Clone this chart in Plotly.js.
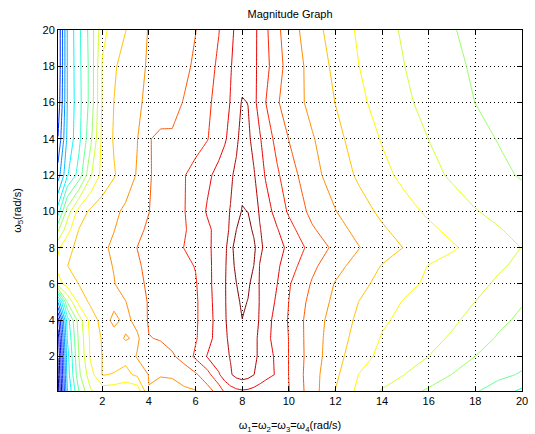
<!DOCTYPE html>
<html>
<head>
<meta charset="utf-8">
<script src="https://cdn.plot.ly/plotly-3.0.1.min.js"></script>
<style>
  html, body { margin: 0; padding: 0; background: #fff; }
  #chart { width: 535px; height: 434px; }
</style>
</head>
<body>
<div id="chart"></div>
<script>
// Grid of ω1=ω2=ω3=ω4 values (rad/s) where the magnitude is sampled
const omega1to4 = [0.1, 0.5, 1, 1.5, 2, 2.5, 3, 3.5, 4, 4.5, 5, 5.5, 6, 6.5, 7, 7.25, 7.5, 7.75, 8, 8.25, 8.5, 8.75, 9, 9.5, 10, 11, 12, 13, 14, 15, 16, 17, 18, 19, 20];
// Grid of ω5 values (rad/s)
const omega5 = [0.1, 1, 2, 3, 4, 5, 6, 7, 8, 9, 10, 12, 14, 16, 18, 20];

// Magnitude samples, one row per ω5 value
const mag_w5_0_1 = [0.5, 7.02, 10.02, 11.9, 12.5, 12.4, 12.1, 12.3, 14.97, 14.4, 14.5, 14.8, 14.95, 15.6, 16.4, 17.2, 17.6, 17.8, 17.9, 17.85, 17.7, 17.55, 17.4, 17.2, 17.03, 15.45, 13.97, 12.75, 11.9, 11.4, 10.85, 10.5, 10.1, 9.5, 8.8];
const mag_w5_1 = [0.8, 7.4, 10.8, 12.6, 14.05, 13.95, 13.75, 14.2, 15.05, 15.1, 15.15, 15.5, 15.85, 16.6, 17.9, 18.5, 18.9, 19.3, 19.5, 19.35, 19.02, 18.6, 18.3, 17.9, 16.98, 15.4, 14.2, 12.98, 12.6, 11.98, 11.55, 10.98, 10.6, 10.25, 9.9];
const mag_w5_2 = [1.02, 7.6, 11.02, 13.18, 14.02, 14.37, 14.25, 15.1, 15.5, 15.7, 15.88, 16.33, 17.18, 18.05, 18.55, 18.8, 19.05, 19.35, 19.65, 19.5, 19.18, 18.86, 18.5, 17.77, 16.98, 15.48, 14.38, 13.36, 12.77, 12.38, 11.99, 11.5, 10.99, 10.67, 10.35];
const mag_w5_3 = [1.5, 8.02, 11.25, 13.2, 14.1, 14.5, 15.1, 14.8, 15.97, 16.05, 16.3, 16.5, 16.9, 17.6, 18.5, 18.86, 19.17, 19.46, 19.78, 19.54, 19.22, 18.83, 18.31, 17.59, 16.98, 15.45, 14.5, 13.62, 12.93, 12.6, 12.27, 11.89, 11.37, 10.91, 10.6];
const mag_w5_4 = [2.5, 8.5, 11.5, 13.38, 14.4, 15.3, 14.7, 15.35, 16.1, 16.26, 16.46, 16.67, 16.88, 17.5, 18.5, 18.92, 19.26, 19.58, 19.98, 19.64, 19.3, 18.94, 18.42, 17.61, 16.92, 15.46, 14.61, 13.8, 13.13, 12.76, 12.45, 12.15, 11.72, 11.17, 10.85];
const mag_w5_5 = [6.02, 11.02, 13.3, 14.2, 14.5, 14.7, 14.97, 15.55, 16.08, 16.27, 16.47, 16.67, 16.86, 17.56, 18.56, 18.93, 19.32, 19.73, 20.2, 19.95, 19.44, 18.96, 18.59, 17.83, 16.99, 15.64, 14.77, 13.99, 13.41, 12.91, 12.61, 12.3, 11.99, 11.52, 11.05];
const mag_w5_6 = [12.6, 13.4, 14.03, 14.34, 14.65, 14.96, 15.38, 15.82, 16.12, 16.32, 16.52, 16.72, 16.92, 17.67, 18.54, 18.92, 19.43, 19.98, 20.5, 20.2, 19.57, 18.94, 18.63, 18.01, 17.09, 15.9, 14.93, 14.27, 13.71, 13.24, 12.84, 12.52, 12.19, 11.89, 11.6];
const mag_w5_7 = [13.3, 13.99, 14.26, 14.51, 14.77, 15.04, 15.48, 15.91, 16.17, 16.38, 16.59, 16.8, 17.04, 17.73, 18.46, 18.85, 19.56, 20.27, 20.85, 20.5, 19.99, 18.97, 18.7, 18.16, 17.46, 16.22, 15.33, 14.6, 13.95, 13.45, 12.97, 12.68, 12.38, 12.09, 11.85];
const mag_w5_8 = [12.8, 13.74, 14.25, 14.54, 14.83, 15.17, 15.59, 16.01, 16.25, 16.5, 16.75, 17.01, 17.4, 17.81, 18.38, 18.74, 19.58, 20.58, 21.3, 20.99, 20.28, 19.21, 18.8, 18.33, 17.8, 16.63, 15.76, 15.04, 14.47, 13.94, 13.52, 13.11, 12.72, 12.35, 11.98];
const mag_w5_9 = [10.8, 12.6, 14.03, 14.34, 14.66, 14.97, 15.38, 15.79, 16.15, 16.45, 16.7, 16.9, 17.35, 17.81, 18.35, 18.7, 19.14, 19.99, 20.85, 20.41, 19.77, 19.06, 18.71, 18.06, 17.36, 16.12, 15.36, 14.71, 14.12, 13.64, 13.18, 12.78, 12.41, 12.04, 11.8];
const mag_w5_10 = [8.5, 11.44, 13.43, 14.19, 14.5, 14.81, 15.17, 15.58, 15.98, 16.43, 16.7, 16.95, 17.45, 18.09, 18.56, 18.79, 19.04, 19.56, 20.08, 19.98, 19.44, 18.91, 18.45, 17.62, 16.86, 15.72, 15.03, 14.39, 13.8, 13.3, 12.84, 12.44, 12.04, 11.81, 11.6];
const mag_w5_12 = [5.5, 7.9, 9.4, 11.88, 13.34, 13.92, 14.49, 15.08, 15.92, 16.29, 16.62, 16.94, 17.36, 17.8, 18.3, 18.58, 18.86, 19.21, 19.6, 19.45, 19.1, 18.49, 17.92, 17.15, 16.43, 15.33, 14.54, 13.85, 13.26, 12.74, 12.28, 11.87, 11.55, 11.23, 10.9];
const mag_w5_14 = [4.05, 7.2, 8.74, 10.75, 13.27, 14.09, 14.53, 14.97, 15.95, 16.2, 16.1, 16.3, 16.6, 16.95, 17.56, 17.88, 18.3, 18.8, 19.4, 19.2, 18.67, 18.11, 17.56, 16.67, 15.98, 15.09, 14.28, 13.56, 12.93, 12.46, 11.99, 11.65, 11.3, 10.95, 10.7];
const mag_w5_16 = [3.3, 7.02, 8.68, 10.35, 13.12, 14.01, 14.43, 14.87, 15.19, 15.47, 15.75, 16.04, 16.43, 16.81, 17.35, 17.69, 18.04, 18.57, 19.09, 18.98, 18.25, 17.63, 17.02, 16.09, 15.57, 14.71, 13.98, 13.21, 12.64, 12.14, 11.74, 11.37, 10.99, 10.75, 10.5];
const mag_w5_18 = [3.05, 7.02, 8.74, 10.33, 13.11, 13.89, 14.35, 14.76, 15.1, 15.34, 15.58, 15.82, 16.13, 16.62, 17.18, 17.57, 17.95, 18.25, 18.5, 18.42, 18.2, 17.77, 17.32, 16.36, 15.65, 14.64, 13.77, 13.01, 12.49, 11.99, 11.6, 11.21, 10.87, 10.59, 10.3];
const mag_w5_20 = [3.05, 7.05, 8.8, 10.42, 12.67, 13.45, 13.98, 14.56, 15.06, 15.29, 15.52, 15.75, 15.98, 16.46, 16.97, 17.39, 17.82, 18.15, 18.45, 18.4, 18.25, 17.74, 17.21, 16.2, 15.5, 14.4, 13.56, 12.87, 12.34, 11.85, 11.45, 11.06, 10.75, 10.45, 10.15];

const xTicks = [2, 4, 6, 8, 10, 12, 14, 16, 18, 20];
const yTicks = [2, 4, 6, 8, 10, 12, 14, 16, 18, 20];

const magnitude = [
  mag_w5_0_1, mag_w5_1, mag_w5_2, mag_w5_3, mag_w5_4, mag_w5_5, mag_w5_6,
  mag_w5_7, mag_w5_8, mag_w5_9, mag_w5_10, mag_w5_12, mag_w5_14, mag_w5_16,
  mag_w5_18, mag_w5_20
];

// MATLAB-style jet colormap for the contour lines
const jet = [
  [0.000, 'rgb(0,0,128)'],
  [0.125, 'rgb(0,0,255)'],
  [0.375, 'rgb(0,255,255)'],
  [0.625, 'rgb(255,255,0)'],
  [0.875, 'rgb(255,0,0)'],
  [1.000, 'rgb(128,0,0)']
];

const trace = {
  type: 'contour',
  x: omega1to4,
  y: omega5,
  z: magnitude,
  autocontour: false,
  contours: { coloring: 'lines', start: 1, end: 20, size: 1, showlabels: false },
  colorscale: jet,
  showscale: false,
  line: { width: 1, smoothing: 0 },
  hoverinfo: 'skip'
};

const axisStyle = {
  range: [0.1, 20],
  ticks: 'inside',
  ticklen: 5,
  tickwidth: 1,
  tickcolor: '#000',
  showline: true,
  linecolor: '#000',
  linewidth: 1,
  mirror: 'ticks',
  showgrid: true,
  gridcolor: '#000',
  gridwidth: 1,
  griddash: '1px,3px',
  zeroline: false,
  tickfont: { size: 11, color: '#000' }
};

const layout = {
  width: 535,
  height: 434,
  margin: { l: 58, r: 13, t: 30, b: 43, pad: 0 },
  paper_bgcolor: '#fff',
  plot_bgcolor: '#fff',
  font: { family: 'Liberation Sans, Arial, sans-serif', size: 11, color: '#000' },
  showlegend: false,
  title: {
    text: 'Magnitude Graph',
    font: { size: 11, color: '#000' },
    x: 0.5, xref: 'paper', xanchor: 'center',
    y: 1 - 14 / 434, yref: 'container', yanchor: 'middle'
  },
  xaxis: Object.assign({}, axisStyle, {
    tickvals: xTicks,
    title: { text: 'ω<sub>1</sub>=ω<sub>2</sub>=ω<sub>3</sub>=ω<sub>4</sub>(rad/s)', font: { size: 11 }, standoff: 15 }
  }),
  yaxis: Object.assign({}, axisStyle, {
    tickvals: yTicks,
    title: { text: 'ω<sub>5</sub>(rad/s)', font: { size: 11 }, standoff: 18 }
  })
};

Plotly.newPlot('chart', [trace], layout, { displayModeBar: false, staticPlot: true });
</script>
</body>
</html>
